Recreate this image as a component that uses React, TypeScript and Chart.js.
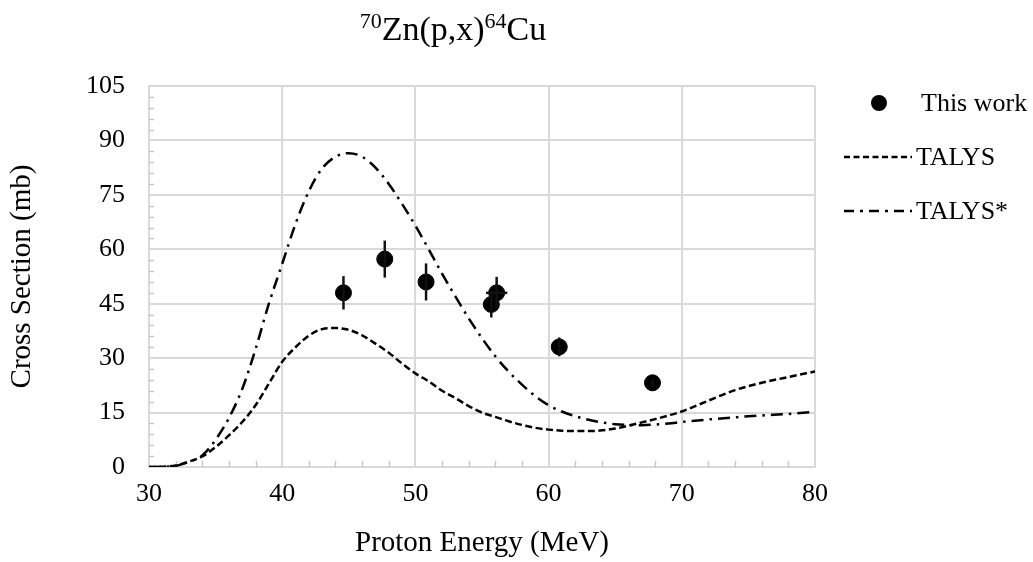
import React, { useEffect, useRef } from "react";
import { Chart, registerables } from "chart.js";

Chart.register(...registerables);

// Experimental data ("This work")
const expEnergy = [44.6, 47.7, 50.8, 55.7, 56.1, 60.8, 67.8];
const expXS = [48.0, 57.3, 51.0, 44.8, 48.0, 33.1, 23.2];
const expXSErr = [4.6, 5.1, 5.1, 3.6, 4.4, 2.6, 1.0];
const expEnergyErr = [0, 0, 0, 0, 0.8, 0, 0];

// TALYS (dashed)
const talysEnergy = [30, 31, 32, 33, 34, 35, 36, 37, 38, 39, 40, 41, 42, 43, 44, 45, 46, 47, 48, 49, 50, 51, 52, 53, 54, 55, 56, 57, 58, 59, 60, 61, 62, 63, 64, 65, 66, 67, 68, 69, 70, 72, 74, 76, 78, 80];
const talysXS = [0, 0.05, 0.4, 1.5, 2.9, 5.5, 8.7, 12.4, 17.0, 23.0, 29.0, 33.0, 36.2, 38.0, 38.3, 37.8, 36.3, 34.0, 31.5, 28.5, 25.8, 23.6, 21.0, 19.0, 16.8, 15.0, 13.8, 12.6, 11.6, 10.8, 10.3, 10.0, 9.9, 9.9, 10.1, 10.6, 11.4, 12.3, 13.2, 14.2, 15.3, 18.3, 21.2, 23.2, 24.8, 26.3];

// TALYS* (dash-dot)
const talysStarEnergy = [30, 31, 32, 33, 34, 35, 36, 37, 38, 39, 40, 41, 42, 43, 44, 45, 46, 47, 48, 49, 50, 51, 52, 53, 54, 55, 56, 57, 58, 59, 60, 61, 62, 63, 64, 65, 66, 67, 68, 69, 70, 72, 74, 76, 78, 80];
const talysStarXS = [0, 0.05, 0.3, 1.4, 3.2, 7.5, 13.5, 21.5, 32.5, 45.0, 56.0, 67.0, 76.0, 82.3, 85.5, 86.5, 85.5, 82.5, 78.0, 72.5, 66.5, 60.0, 53.3, 47.0, 41.0, 35.5, 30.5, 26.3, 22.7, 19.5, 17.0, 15.3, 14.0, 13.0, 12.3, 11.8, 11.6, 11.5, 11.7, 12.0, 12.4, 13.1, 13.7, 14.2, 14.6, 15.2];

const xTicks = [30, 40, 50, 60, 70, 80];
const yTicks = [0, 15, 30, 45, 60, 75, 90, 105];

const FONT = "'Liberation Serif', 'Times New Roman', serif";
const DASH = [7, 3.5];
const DASH_DOT = [12, 6, 2.5, 6];

const titlePlugin = {
  id: "customTitle",
  afterDraw(chart: any) {
    const ctx = chart.ctx;
    const parts = [
      { t: "70", sup: true },
      { t: "Zn(p,x)", sup: false },
      { t: "64", sup: true },
      { t: "Cu", sup: false },
    ];
    const big = 34;
    const small = 22;
    ctx.save();
    ctx.fillStyle = "#000";
    ctx.textBaseline = "alphabetic";
    ctx.textAlign = "left";
    let total = 0;
    for (const p of parts) {
      ctx.font = `${p.sup ? small : big}px ${FONT}`;
      total += ctx.measureText(p.t).width;
    }
    let x = 453 - total / 2;
    const base = 40;
    for (const p of parts) {
      ctx.font = `${p.sup ? small : big}px ${FONT}`;
      ctx.fillText(p.t, x, p.sup ? base - 12 : base);
      x += ctx.measureText(p.t).width;
    }
    ctx.restore();
  },
};

const minorTickPlugin = {
  id: "minorTicks",
  beforeDatasetsDraw(chart: any) {
    const ctx = chart.ctx;
    const xs = chart.scales.x;
    const ys = chart.scales.y;
    const area = chart.chartArea;
    ctx.save();
    ctx.strokeStyle = "#c8c8c8";
    ctx.lineWidth = 1.5;
    for (let v = 3; v < 105; v += 3) {
      if (v % 15 === 0) continue;
      const py = Math.round(ys.getPixelForValue(v)) + 0.5;
      ctx.beginPath();
      ctx.moveTo(area.left, py);
      ctx.lineTo(area.left + 5, py);
      ctx.stroke();
    }
    for (let v = 32; v < 80; v += 2) {
      if (v % 10 === 0) continue;
      const px = Math.round(xs.getPixelForValue(v)) + 0.5;
      ctx.beginPath();
      ctx.moveTo(px, area.bottom);
      ctx.lineTo(px, area.bottom - 6);
      ctx.stroke();
    }
    ctx.restore();
  },
};

const errorBarPlugin = {
  id: "errorBars",
  afterDatasetsDraw(chart: any) {
    const ctx = chart.ctx;
    const xs = chart.scales.x;
    const ys = chart.scales.y;
    ctx.save();
    ctx.strokeStyle = "#111";
    ctx.lineWidth = 2.5;
    for (let i = 0; i < expEnergy.length; i++) {
      const px = xs.getPixelForValue(expEnergy[i]);
      const py = ys.getPixelForValue(expXS[i]);
      const y1 = ys.getPixelForValue(expXS[i] - expXSErr[i]);
      const y2 = ys.getPixelForValue(expXS[i] + expXSErr[i]);
      ctx.beginPath();
      ctx.moveTo(px, y1);
      ctx.lineTo(px, y2);
      ctx.stroke();
      if (expEnergyErr[i] > 0) {
        const x1 = xs.getPixelForValue(expEnergy[i] - expEnergyErr[i]);
        const x2 = xs.getPixelForValue(expEnergy[i] + expEnergyErr[i]);
        ctx.beginPath();
        ctx.moveTo(x1, py);
        ctx.lineTo(x2, py);
        ctx.stroke();
      }
    }
    ctx.restore();
  },
};

const legendPlugin = {
  id: "customLegend",
  afterDraw(chart: any) {
    const ctx = chart.ctx;
    ctx.save();
    ctx.fillStyle = "#000";
    ctx.strokeStyle = "#000";
    ctx.font = `26px ${FONT}`;
    ctx.textBaseline = "middle";
    ctx.textAlign = "left";
    // This work
    ctx.beginPath();
    ctx.arc(879, 103, 8, 0, Math.PI * 2);
    ctx.fill();
    ctx.fillText("This work", 921, 104);
    // TALYS
    ctx.lineWidth = 2.5;
    ctx.setLineDash([6, 3.5]);
    ctx.beginPath();
    ctx.moveTo(844, 157);
    ctx.lineTo(912, 157);
    ctx.stroke();
    ctx.fillText("TALYS", 916, 158);
    // TALYS*
    ctx.setLineDash([10, 6, 3, 6]);
    ctx.beginPath();
    ctx.moveTo(844, 211);
    ctx.lineTo(912, 211);
    ctx.stroke();
    ctx.setLineDash([]);
    ctx.fillText("TALYS*", 916, 212);
    ctx.restore();
  },
};

export default function App() {
  const ref = useRef<HTMLCanvasElement | null>(null);

  useEffect(() => {
    if (!ref.current) return;
    const chart = new Chart(ref.current, {
      type: "scatter",
      data: {
        datasets: [
          {
            label: "This work",
            data: expEnergy.map((e, i) => ({ x: e, y: expXS[i] })),
            pointRadius: 8,
            pointHoverRadius: 8,
            backgroundColor: "#000",
            borderColor: "#000",
            showLine: false,
            order: 0,
          },
          {
            label: "TALYS",
            data: talysEnergy.map((e, i) => ({ x: e, y: talysXS[i] })),
            showLine: true,
            pointRadius: 0,
            borderColor: "#000",
            borderWidth: 2.5,
            borderDash: DASH,
            cubicInterpolationMode: "monotone",
            fill: false,
            order: 1,
          },
          {
            label: "TALYS*",
            data: talysStarEnergy.map((e, i) => ({ x: e, y: talysStarXS[i] })),
            showLine: true,
            pointRadius: 0,
            borderColor: "#000",
            borderWidth: 2.5,
            borderDash: DASH_DOT,
            cubicInterpolationMode: "monotone",
            fill: false,
            order: 2,
          },
        ],
      },
      options: {
        responsive: false,
        animation: false,
        events: [],
        layout: { padding: { top: 86, right: 218, left: 0, bottom: 0 } },
        plugins: {
          legend: { display: false },
          title: { display: false },
          tooltip: { enabled: false },
        },
        scales: {
          x: {
            type: "linear",
            min: 30,
            max: 80,
            afterBuildTicks: (scale: any) => {
              scale.ticks = xTicks.map((v) => ({ value: v }));
            },
            afterFit: (scale: any) => {
              scale.height = 95;
            },
            ticks: {
              color: "#000",
              font: { family: FONT, size: 26 },
              padding: 12,
              maxRotation: 0,
            },
            grid: { color: "#d9d9d9", lineWidth: 2, drawTicks: false },
            border: { color: "#d9d9d9", width: 2 },
            title: {
              display: true,
              text: "Proton Energy (MeV)",
              color: "#000",
              font: { family: FONT, size: 29 },
              padding: { top: 0, bottom: 1 },
            },
          },
          y: {
            type: "linear",
            min: 0,
            max: 105,
            afterBuildTicks: (scale: any) => {
              scale.ticks = yTicks.map((v) => ({ value: v }));
            },
            afterFit: (scale: any) => {
              scale.width = 149;
            },
            ticks: {
              color: "#000",
              font: { family: FONT, size: 26 },
              padding: 24,
            },
            grid: { color: "#d9d9d9", lineWidth: 2, drawTicks: false },
            border: { color: "#d9d9d9", width: 2 },
            title: {
              display: true,
              text: "Cross Section (mb)",
              color: "#000",
              font: { family: FONT, size: 29 },
              padding: { top: 5, bottom: 0 },
            },
          },
        },
      } as any,
      plugins: [titlePlugin, minorTickPlugin, errorBarPlugin, legendPlugin],
    });
    return () => chart.destroy();
  }, []);

  return (
    <div style={{ position: "absolute", left: 0, top: 0, width: 1033, height: 562, background: "#fff" }}>
      <canvas ref={ref} width={1033} height={562} style={{ display: "block" }} />
    </div>
  );
}
